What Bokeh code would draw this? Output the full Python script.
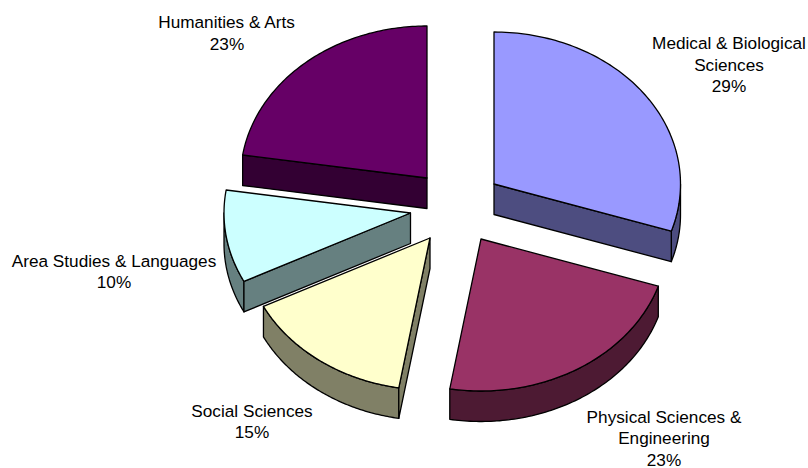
import math
from bokeh.plotting import figure
from bokeh.models import ColumnDataSource
from bokeh.core.properties import value
from bokeh.embed import file_html
from bokeh.resources import INLINE

# data (clockwise from 12 o'clock)
categories = ["Medical & Biological\nSciences", "Physical Sciences &\nEngineering", "Social Sciences",
              "Area Studies & Languages", "Humanities & Arts"]
shares = [29.4, 22.5, 15.0, 10.0, 23.1]
percent_labels = ["29%", "23%", "15%", "10%", "23%"]

# style / layout
top_colors = ["#9999FF", "#993366", "#FFFFCC", "#CCFFFF", "#660066"]
side_colors = ["#4D4D80", "#4D1A33", "#808066", "#668080", "#330033"]
apex_x = [493.5, 480.5, 429.5, 410.0, 426.5]
apex_y = [183.5, 238.5, 237.5, 212.5, 177.5]
label_x = [728.5, 663.5, 251.5, 113.5, 226.5]
label_y = [42.5, 416, 410, 260, 21.5]
RX, RY, DEPTH = 186.5, 152.0, 30.5
VIEW_WARP = 2.8  # degrees; slight angle shift caused by the 3D view
LINE_H = 21.5
draw_order = [4, 0, 3, 2, 1]


def view_angle(theta):
    return theta + VIEW_WARP * math.sin(math.radians(theta / 2.0))


def rim(cx, cy, a, b, n=90):
    pts = []
    for i in range(n + 1):
        t = math.radians(a + (b - a) * i / n)
        pts.append((cx + RX * math.sin(t), cy - RY * math.cos(t)))
    return pts


total = sum(shares)
bounds = [0.0]
for s in shares:
    bounds.append(bounds[-1] + 360.0 * s / total)

xs, ys, fills = [], [], []


def add(poly, color):
    xs.append([q[0] for q in poly])
    ys.append([q[1] for q in poly])
    fills.append(color)


for k in draw_order:
    ts = view_angle(bounds[k])
    te = view_angle(bounds[k + 1])
    cx, cy = apex_x[k], apex_y[k]
    side = side_colors[k]
    # outer rim, visible on the lower half of the ellipse only
    a, b = max(ts, 90.0), min(te, 270.0)
    if b > a:
        arc = rim(cx, cy, a, b)
        add(arc + [(x, y + DEPTH) for x, y in reversed(arc)], side)
    # cut faces
    if math.sin(math.radians(ts)) < -1e-9:
        e = rim(cx, cy, ts, ts, 1)[0]
        add([(cx, cy), e, (e[0], e[1] + DEPTH), (cx, cy + DEPTH)], side)
    if math.sin(math.radians(te)) > 1e-9:
        e = rim(cx, cy, te, te, 1)[0]
        add([(cx, cy), e, (e[0], e[1] + DEPTH), (cx, cy + DEPTH)], side)
    # top face
    add([(cx, cy)] + rim(cx, cy, ts, te), top_colors[k])

p = figure(width=808, height=468, x_range=(0, 808), y_range=(468, 0),
           output_backend="svg", toolbar_location=None, min_border=0)
p.axis.visible = False
p.grid.visible = False
p.outline_line_color = None

p.patches("xs", "ys", source=ColumnDataSource(dict(xs=xs, ys=ys, fill=fills)),
          fill_color="fill", line_color="black", line_width=1.3, line_join="round")

tx, ty, tt = [], [], []
for k in range(len(categories)):
    lines = categories[k].split("\n") + [percent_labels[k]]
    for j, line in enumerate(lines):
        tx.append(label_x[k])
        ty.append(label_y[k] + j * LINE_H)
        tt.append(line)

p.text("x", "y", text="t", source=ColumnDataSource(dict(x=tx, y=ty, t=tt)),
       text_font=value("Liberation Sans"), text_font_size="17.2px", text_color="#000000",
       text_align="center", text_baseline="middle")

open("out.html", "w").write(file_html(p, INLINE))
